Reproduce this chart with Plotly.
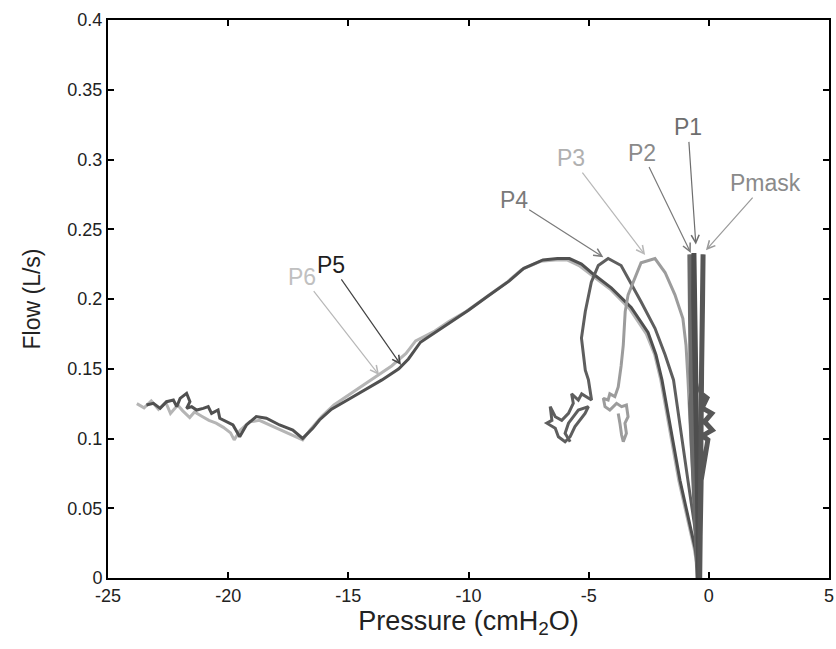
import plotly.graph_objects as go

# ---------------- data ----------------
x_ticks = [-25, -20, -15, -10, -5, 0, 5]
x_tick_labels = ["-25", "-20", "-15", "-10", "-5", "0", "5"]
y_ticks = [0, 0.05, 0.1, 0.15, 0.2, 0.25, 0.3, 0.35, 0.4]
y_tick_labels = ["0", "0.05", "0.1", "0.15", "0.2", "0.25", "0.3", "0.35", "0.4"]

p6_x = [-23.80, -23.50, -23.20, -22.90, -22.60, -22.40, -22.10, -21.90, -21.60, -21.40,
        -21.10, -20.80, -20.50, -20.20, -19.90, -19.75, -19.50, -19.10, -18.70, -18.30,
        -17.90, -17.50, -17.10, -16.90, -16.60, -16.10, -15.60, -15.00, -14.40, -13.80,
        -13.20, -12.60, -12.20, -11.40, -10.80, -10.10, -9.30, -8.40, -7.80, -7.00,
        -6.40, -5.90, -5.40, -4.95, -4.10, -3.30, -2.60, -2.25, -2.00, -1.25, -0.62, -0.40]
p6_y = [0.125, 0.122, 0.127, 0.121, 0.126, 0.118, 0.124, 0.120, 0.115, 0.119,
        0.116, 0.113, 0.111, 0.108, 0.104, 0.099, 0.106, 0.112, 0.113, 0.110,
        0.107, 0.104, 0.101, 0.099, 0.106, 0.116, 0.124, 0.131, 0.138, 0.145,
        0.152, 0.161, 0.170, 0.177, 0.184, 0.191, 0.201, 0.212, 0.221, 0.227,
        0.228, 0.228, 0.224, 0.218, 0.207, 0.193, 0.175, 0.160, 0.142, 0.070, 0.022, 0.0]

p5_x = [-23.40, -23.11, -22.83, -22.56, -22.28, -22.14, -22.00, -21.73, -21.59, -21.73,
        -21.52, -21.31, -21.04, -20.83, -20.69, -20.42, -20.35, -20.07, -19.80, -19.52,
        -19.24, -18.83, -18.41, -17.86, -17.31, -16.90, -16.48, -16.20, -15.70, -15.00,
        -14.30, -13.60, -12.90, -12.50, -12.00, -11.20, -10.60, -10.00, -9.20, -8.30,
        -7.70, -6.90, -6.30, -5.80, -5.30, -4.89, -4.06, -3.23, -2.53, -2.20, -1.95,
        -1.20, -0.58, -0.37]
p5_y = [0.124, 0.1252, 0.1216, 0.1264, 0.1276, 0.1228, 0.1288, 0.1324, 0.1264, 0.1216,
        0.1228, 0.1204, 0.1216, 0.1228, 0.118, 0.1204, 0.1145, 0.112, 0.1097, 0.1013,
        0.1097, 0.1157, 0.1145, 0.1097, 0.1061, 0.1001, 0.1073, 0.1133, 0.121, 0.128,
        0.135, 0.142, 0.150, 0.157, 0.169, 0.178, 0.185, 0.192, 0.202, 0.213,
        0.222, 0.228, 0.229, 0.229, 0.225, 0.219, 0.208, 0.194, 0.176, 0.160, 0.142,
        0.070, 0.022, 0.0]

p4_x = [-0.37, -0.46, -0.87, -1.47, -1.82, -2.24, -2.82, -3.36, -3.65, -4.19,
        -4.60, -4.89, -5.14, -5.30, -5.14, -5.01, -4.94, -4.88, -5.29, -5.43,
        -5.71, -5.64, -5.84, -6.12, -6.39, -6.60, -6.53, -6.74, -6.39, -6.26,
        -5.98, -5.77, -5.57, -5.36, -5.15, -5.01, -5.43, -5.84, -5.98, -5.77]
p4_y = [0.0, 0.022, 0.070, 0.142, 0.160, 0.179, 0.198, 0.215, 0.224, 0.229,
        0.224, 0.212, 0.191, 0.172, 0.149, 0.142, 0.135, 0.1276, 0.132, 0.1276,
        0.132, 0.1252, 0.118, 0.113, 0.1156, 0.1228, 0.113, 0.111, 0.1073, 0.1013,
        0.0977, 0.1013, 0.1085, 0.113, 0.118, 0.1228, 0.1204, 0.111, 0.1037, 0.0977]

p3_x = [-0.42, -0.60, -0.75, -0.87, -0.95, -1.08, -1.41, -1.82, -2.24, -2.82,
        -3.07, -3.36, -3.48, -3.56, -3.65, -3.70, -3.77, -3.91, -4.12, -4.19,
        -4.39, -4.32, -4.12, -3.84, -3.63, -3.43, -3.36, -3.49, -3.43, -3.56,
        -3.63, -3.70, -3.77]
p3_y = [0.0, 0.050, 0.100, 0.143, 0.167, 0.186, 0.203, 0.219, 0.229, 0.226,
        0.215, 0.203, 0.191, 0.167, 0.152, 0.145, 0.137, 0.130, 0.132, 0.1276,
        0.1288, 0.1228, 0.1204, 0.1252, 0.1228, 0.124, 0.1156, 0.111, 0.1037, 0.0977,
        0.1025, 0.111, 0.118]

p2_x = [-0.42, -0.55, -0.66, -0.74, -0.78, -0.79, -0.77, -0.74, -0.70, -0.76, -0.72,
        -0.66, -0.60, -0.52, -0.45]
p2_y = [0.0, 0.05, 0.10, 0.15, 0.19, 0.232, 0.20, 0.17, 0.135, 0.125, 0.11,
        0.09, 0.06, 0.03, 0.0]

p1_x = [-0.40, -0.46, -0.54, -0.60, -0.63, -0.62, -0.58, -0.54, -0.50, -0.46, -0.42]
p1_y = [0.0, 0.05, 0.10, 0.15, 0.20, 0.233, 0.19, 0.14, 0.10, 0.05, 0.0]

pmask_x = [-0.38, -0.37, -0.34, -0.30, -0.26, -0.24, -0.27, -0.31, -0.36, -0.30,
           -0.08, -0.28, 0.12, -0.18, 0.14, -0.26, -0.04, -0.32, -0.36, -0.38]
pmask_y = [0.0, 0.05, 0.10, 0.15, 0.20, 0.232, 0.18, 0.14, 0.135, 0.132,
           0.129, 0.122, 0.118, 0.112, 0.106, 0.102, 0.099, 0.07, 0.03, 0.0]

# labels: name, text position, arrow tip, colour
labels = ["P1", "P2", "P3", "P4", "Pmask", "P5", "P6"]
label_x = [-0.87, -2.78, -5.72, -8.12, 2.36, -15.71, -16.91]
label_y = [0.323, 0.305, 0.301, 0.271, 0.283, 0.2244, 0.216]
tip_x = [-0.54, -0.75, -2.65, -4.39, -0.12, -12.81, -13.72]
tip_y = [0.239, 0.233, 0.2315, 0.230, 0.235, 0.1527, 0.1455]
label_colors = ["#6e6e6e", "#8a8a8a", "#b0b0b0", "#7a7a7a", "#8a8a8a", "#1e1e1e", "#c0c0c0"]
arrow_colors = ["#6e6e6e", "#7a7a7a", "#b8b8b8", "#7a7a7a", "#9a9a9a", "#444444", "#b8b8b8"]

# ---------------- figure ----------------
FONT = "Liberation Sans, Arial, sans-serif"
fig = go.Figure()
series = [
    (p6_x, p6_y, "#b5b5b5", 3),
    (p5_x, p5_y, "#505050", 3),
    (p4_x, p4_y, "#5e5e5e", 3),
    (p3_x, p3_y, "#9c9c9c", 3),
    (p2_x, p2_y, "#6a6a6a", 5),
    (p1_x, p1_y, "#4e4e4e", 5),
    (pmask_x, pmask_y, "#575757", 5),
]
for xs, ys, col, w in series:
    fig.add_trace(go.Scatter(x=xs, y=ys, mode="lines",
                             line=dict(color=col, width=w), showlegend=False,
                             hoverinfo="skip"))

for i, name in enumerate(labels):
    fig.add_annotation(x=tip_x[i], y=tip_y[i], ax=label_x[i], ay=label_y[i],
                       xref="x", yref="y", axref="x", ayref="y",
                       text=name, showarrow=True, arrowhead=5, arrowsize=1.3,
                       arrowwidth=1.2, arrowcolor=arrow_colors[i],
                       font=dict(family=FONT, size=23, color=label_colors[i]))

axis_common = dict(showgrid=False, zeroline=False, showline=True, linecolor="black",
                   linewidth=2, mirror="ticks", ticks="inside", ticklen=6,
                   tickwidth=1.5, tickcolor="black",
                   tickfont=dict(family=FONT, size=18, color="#222"))

fig.update_layout(
    width=836, height=649,
    margin=dict(l=108, r=2, t=20, b=71),
    paper_bgcolor="white", plot_bgcolor="white",
    xaxis=dict(range=[-25, 5], tickvals=x_ticks, ticktext=x_tick_labels,
               ticklabeloverflow="allow",
               title=dict(text="Pressure (cmH<sub>2</sub>O)", standoff=6,
                          font=dict(family=FONT, size=27, color="#222")),
               **axis_common),
    yaxis=dict(range=[0, 0.4], tickvals=y_ticks, ticktext=y_tick_labels,
               title=dict(text="Flow (L/s)", standoff=20,
                          font=dict(family=FONT, size=23, color="#222")),
               **axis_common),
)

fig.write_html("out.html")
